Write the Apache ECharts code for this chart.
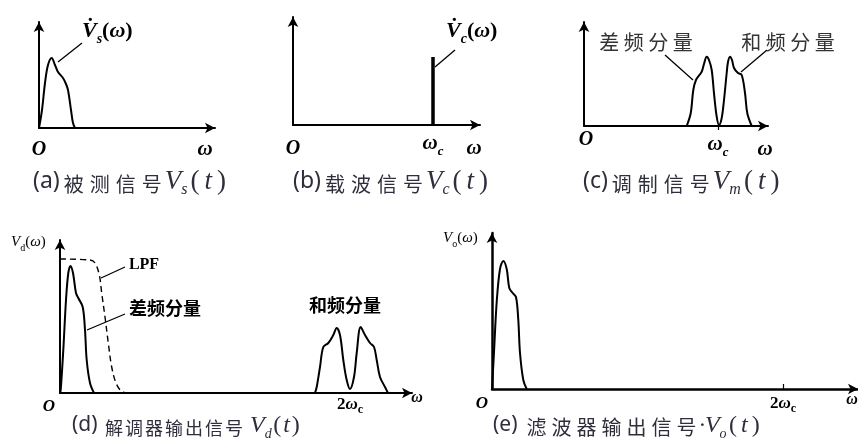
<!DOCTYPE html>
<html><head><meta charset="utf-8">
<script src="https://cdn.jsdelivr.net/npm/echarts@6/dist/echarts.min.js"></script>
<style>html,body{margin:0;padding:0;background:#fff}#c{width:858px;height:441px}</style>
</head><body><div id="c"></div>
<script>
// ---- data (x: frequency offset from origin, y: amplitude) ----
const sigA = [[0,0],[3,18],[6,45],[9,63],[12.7,70],[16,63],[19,56],[24,50],[27,44],[29,38],[32,18],[34,5],[36,0]];
const carrierB = [[140,0],[140,68]];
const sigC = [[102.7,0],[106.7,12.7],[109.3,36],[112,46],[117.7,54.3],[120,62],[122.7,69.3],[125,66],[127.7,56],[130,32.7],[132.7,9.3],[135,1],[137.7,8],[140,26],[142.7,53],[144,64],[146,69.3],[148,66],[150,58],[154,53],[157.7,51],[161,33],[163.3,12.7],[167.7,0]];
const sigD = [[0,0],[0.7,3],[3.3,43],[6,93],[8.3,120],[10.5,127],[13,120],[16,100],[18.3,95],[22.7,86],[25,63],[26.7,33],[30,10],[34,0]];
const lpfD = [[0,134],[30,133],[35,130],[39.3,118],[41.7,100],[45,76],[48.3,50],[51.7,26],[56,10],[61.7,1.5],[68,0]];
const sumD = [[255,0],[256.7,6],[260,26],[263.3,46],[268.3,50],[273.3,58],[276.7,65],[280,58],[283.3,33],[286.7,13],[290,4],[294,16],[296.7,40],[300.7,66],[305,58],[310,50],[314,46],[316.7,33],[320,16],[325,6],[328,0]];
const sigE = [[0,0],[2,37],[4.7,87],[8,120],[11.3,128],[14.7,120],[17.3,101],[20.7,96],[24,92],[26.3,69],[28,36],[31.3,9],[34.7,0]];
const wcB = 140, wcC = 134, w2cD = 290, w2cE = 291;
const capA = ['(a)', ['被','测','信','号'], 'V', 's'];
const capB = ['(b)', ['载','波','信','号'], 'V', 'c'];
const capC = ['(c)', ['调','制','信','号'], 'V', 'm'];
const capD = ['(d) ', ['解','调','器','输','出','信','号'], ' V', 'd'];
const capE = ['(e) ', ['滤','波','器','输','出','信','号'], '·V', 'o'];
const labDiff = '差频分量', labSum = '和频分量';

// ---- layout ----
const SERIF = "'Liberation Serif','DejaVu Serif',serif";
const SERIF_F = "Liberation Serif";
const CJK = "'Noto Sans CJK SC',sans-serif";
const CAPC = '#2e2e3c';
const grids = [
  {left:39, top:22, width:176, height:106},
  {left:293, top:17, width:187, height:108},
  {left:584, top:22, width:184, height:104},
  {left:60, top:240, width:352, height:153},
  {left:492, top:233, width:366, height:156}
];
const axW = [2,2,2,2,2.5];
function xAx(i, vals, fmt, rich, tick, margin){
  const g = grids[i];
  return {type:'value', gridIndex:i, min:0, max:g.width,
    axisLine:{show:true, symbol:['none','arrow'], symbolSize:[8,10], lineStyle:{color:'#000', width:axW[i]}},
    splitLine:{show:false},
    axisTick: tick ? Object.assign({show:true, customValues:vals, lineStyle:{color:'#000',width:1.2}}, tick) : {show:false},
    axisLabel: vals ? {show:true, customValues:vals, formatter:fmt, rich:rich, margin:margin||8} : {show:false}
  };
}
function yAx(i){
  const g = grids[i];
  return {type:'value', gridIndex:i, min:0, max:g.height,
    axisLine:{show:true, symbol:['none','arrow'], symbolSize:[8,10], lineStyle:{color:'#000', width:axW[i]}},
    splitLine:{show:false}, axisTick:{show:false}, axisLabel:{show:false}};
}
function rs(size, style, weight, pb){
  return {fontSize:size, fontStyle:style, fontWeight:weight, fontFamily:SERIF_F, color:'#000', verticalAlign:'bottom', padding:[0,0,pb||0,0]};
}
const wcRichTop = {w:rs(21,'italic','bold',4), c:rs(13,'italic','bold',0)};
const wcRichBot = {w:rs(17,'normal','bold',3), v:rs(17,'italic','bold',3), c:rs(12,'normal','bold',0)};

function line(i, data, opt){
  return Object.assign({type:'line', xAxisIndex:i, yAxisIndex:i, data:data, showSymbol:false, smooth:0.35,
    lineStyle:{color:'#000', width:2}, silent:true, z:3}, opt||{});
}

function caption(c, x, y, ps, cs, pad, ms, mp){
  let t = '{p|'+c[0]+'}';
  c[1].forEach(ch => t += '{c|'+ch+'}');
  t += '{v|'+c[2]+'}{s|'+c[3]+'}{m|(}{t|t}{m|)}';
  return {type:'text', left:x, top:y, style:{text:t, rich:{
    p:{font:ps+"px 'Noto Sans',sans-serif", fill:CAPC, verticalAlign:'bottom', padding:[0,1,5,0]},
    c:{font:cs+'px '+CJK, fill:CAPC, verticalAlign:'bottom', padding:[0,pad,4,pad]},
    v:{font:'italic '+ms+'px '+SERIF, fill:CAPC, verticalAlign:'bottom', padding:[0,0,3,0]},
    s:{font:'italic '+Math.round(ms*0.6)+'px '+SERIF, fill:CAPC, verticalAlign:'bottom', padding:[0,1,0,0]},
    m:{font:ms+'px '+SERIF, fill:CAPC, verticalAlign:'bottom', padding:[0,mp,3,mp]},
    t:{font:'italic '+ms+'px '+SERIF, fill:CAPC, verticalAlign:'bottom', padding:[0,mp+1,3,mp+1]}
  }}};
}
function txt(text, x, y, font, align, color){
  return {type:'text', x:x, y:y, style:{text:text, font:font, fill:color||'#000', align:align||'center', verticalAlign:'middle'}};
}
function vlabel(sub, x, y, size, bold){
  const b = bold ? 'bold ' : '';
  return {type:'text', x:x, y:y, style:{text:'{v|V'+(bold?'\u0307':'')+'}{s|'+sub+'}{m|(}{w|ω}{m|)}', verticalAlign:'middle', rich:{
    v:{font:'italic '+b+size+'px '+SERIF, fill:'#000', verticalAlign:'bottom', padding:[0,0,4,0]},
    s:{font:(bold?'italic ':'')+b+Math.round(size*0.65)+'px '+SERIF, fill:'#000', verticalAlign:'bottom'},
    m:{font:b+size+'px '+SERIF, fill:'#000', verticalAlign:'bottom', padding:[0,0,4,0]},
    w:{font:'italic '+b+size+'px '+SERIF, fill:'#000', verticalAlign:'bottom', padding:[0,0,4,0]}
  }}};
}
function lead(x1,y1,x2,y2){
  return {type:'line', shape:{x1:x1,y1:y1,x2:x2,y2:y2}, style:{stroke:'#000', lineWidth:1.3}};
}

const option = {
  animation:false, backgroundColor:'#fff',
  grid: grids,
  xAxis:[
    xAx(0),
    xAx(1, [wcB], () => '{w|ω}{c|c}', wcRichTop, null, 8),
    xAx(2, [wcC], () => '{w|ω}{c|c}', wcRichTop, {length:4, inside:false}, 8),
    xAx(3, [w2cD], () => '{w|2}{v|ω}{c|c}', wcRichBot, null, 3),
    xAx(4, [w2cE], () => '{w|2}{v|ω}{c|c}', wcRichBot, {length:5, inside:true}, 6)
  ],
  yAxis:[yAx(0),yAx(1),yAx(2),yAx(3),yAx(4)],
  series:[
    line(0, sigA),
    line(1, carrierB, {smooth:false, lineStyle:{color:'#000', width:3.5}}),
    line(2, sigC),
    line(3, sigD),
    line(3, lpfD, {lineStyle:{color:'#000', width:1.4, type:[6,4]}}),
    line(3, sumD),
    line(4, sigE)
  ],
  graphic:[
    // O and ω labels
    txt('O', 39, 150, 'italic bold 20px '+SERIF),
    txt('ω', 205, 150, 'italic bold 21px '+SERIF),
    txt('O', 293, 149, 'italic bold 20px '+SERIF),
    txt('ω', 474, 149, 'italic bold 21px '+SERIF),
    txt('O', 586, 140, 'italic bold 20px '+SERIF),
    txt('ω', 765, 150, 'italic bold 21px '+SERIF),
    txt('O', 49, 407, 'italic bold 17px '+SERIF),
    txt('ω', 417, 398, 'italic bold 16px '+SERIF),
    txt('O', 482, 404, 'italic bold 17px '+SERIF),
    txt('ω', 852, 400, 'italic bold 16px '+SERIF),
    // spectrum labels
    vlabel('s', 82, 33, 22, true),
    vlabel('c', 446, 33, 22, true),
    vlabel('d', 11, 244, 15, false),
    vlabel('o', 443, 240, 15, false),
    txt(labDiff.split('').join(' '), 646, 42, '20px '+CJK, 'center', '#333'),
    txt(labSum.split('').join(' '), 788, 42, '20px '+CJK, 'center', '#333'),
    txt('LPF', 144, 265, 'bold 16px '+SERIF, 'center'),
    txt(labDiff, 165, 308, 'bold 18px '+CJK, 'center'),
    txt(labSum, 345, 305, 'bold 18px '+CJK, 'center'),
    // leader lines
    lead(58,62,82,43),
    lead(435,67,455,50),
    lead(665,55,693,80),
    lead(741,72,767,50),
    lead(101,278,125,267),
    lead(87,330,125,314),
    // captions
    caption(capA, 33, 168, 23, 20, 3, 27, 2),
    caption(capB, 293, 168, 23, 20, 3, 27, 2),
    caption(capC, 583, 168, 23, 20, 3, 27, 2),
    caption(capD, 72, 414, 21, 18, 1, 24, 0.5),
    caption(capE, 493, 414, 21, 20, 2.5, 24, 1.5)
  ]
};
const chart = echarts.init(document.getElementById('c'));
chart.setOption(option);
</script></body></html>
